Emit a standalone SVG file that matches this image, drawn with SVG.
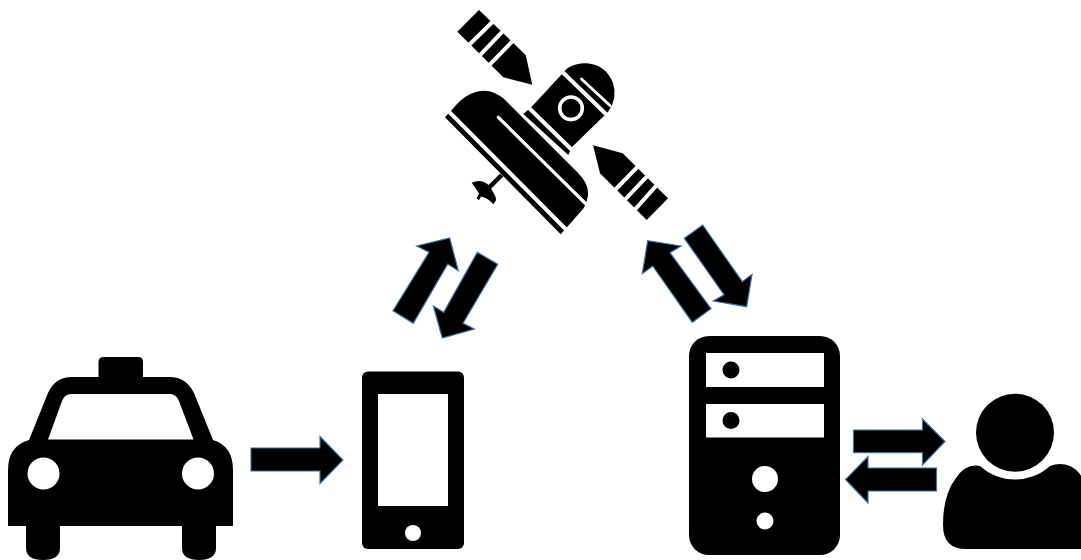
<svg xmlns="http://www.w3.org/2000/svg" width="1081" height="560" viewBox="0 0 1081 560">
<style>
.k{fill:#000}
.w{fill:#fff}
.s{stroke:#fff;stroke-width:4;fill:none}
.a{fill:#000;stroke:#41719c;stroke-width:1.2;stroke-linejoin:miter}
</style>
<rect width="1081" height="560" fill="#fff"/>
<g id="satellite">
<path class="k" d="M479 10L525.700 55L532.300 84.700L503.300 77.300L457.300 31.700Z"/>
<path class="s" d="M468.700 45.300L493.700 20.700M479.700 55.300L503.700 30.300M489 65.300L513 40.700"/>
<path class="k" d="M593 145.300L622.700 153.300L668 198.300L646.700 220L600 173.300Z"/>
<path class="s" d="M614 191L638 166.300M623.700 201L647 176.300M633.700 211L656.300 185.700"/>
<path class="k" d="M523.300 114L531.700 106.700L567.300 68.300Q576 63 586.700 63.300Q606 65 613 83Q618 98 608 112L572 147L568.300 155Z"/>
<path class="s" d="M529 108L572 150M563 72.500L608.500 116.500"/>
<path d="M581.500 79L610 105.500" fill="none" stroke="#fff" stroke-width="2.800" stroke-linecap="round"/>
<circle cx="571" cy="108.300" r="11.300" fill="none" stroke="#fff" stroke-width="3.600"/>
<path class="k" d="M445 117.300L453.300 108.300Q466 92 483.300 90.700Q493 90 503.300 98.300L578.300 173.300Q590 185 587.700 197Q586 205 583 209L560.700 234.300Z"/>
<path class="s" d="M449 111.600L567.500 231"/>
<path d="M498.300 117.300L586.500 204.500" fill="none" stroke="#fff" stroke-width="3.200" stroke-linecap="round"/>
<path d="M501.700 175L485 191.700" stroke="#000" stroke-width="4.500" fill="none"/>
<path class="k" d="M471.700 182.700Q478 180 483.300 181.700Q490 184 493 192Q497 198 495.700 201L493.300 204.300Q489 199 484 197.500L481 196.500L479 200L476.500 198.500L479 193.500Q475 187 471.700 182.700Z"/>
</g>
<g id="taxi">
<path class="k" d="M8 526V470Q8 446 29 440L48 393Q55 377 72 377H98.500V362Q98.500 357 104 357H138Q143 357 143 362V377H170Q186 377 194 393L213 440Q233 446 233 470V526H216V548Q216 560 199 560Q182 560 182 548V526H60V548Q60 560 43 560Q26 560 26 548V526Z"/>
<path class="w" d="M48 439.500L62 401Q65 394 71 394H170Q176 394 179 401L193.500 439.500Z"/>
<circle class="w" cx="43.500" cy="473.500" r="16"/>
<circle class="w" cx="198" cy="473.500" r="16"/>
</g>
<g id="phone">
<rect class="k" x="362" y="371.500" width="102" height="177.500" rx="6"/>
<rect class="w" x="378" y="394" width="70" height="112"/>
<circle class="w" cx="413" cy="533" r="8"/>
</g>
<g id="server">
<rect class="k" x="689" y="336" width="151" height="219" rx="20"/>
<rect class="w" x="706" y="353" width="118" height="34"/>
<rect class="w" x="706" y="404" width="118" height="33.500"/>
<circle class="k" cx="731" cy="370" r="8.500"/>
<circle class="k" cx="731" cy="420.500" r="8.500"/>
<circle class="w" cx="765" cy="479" r="13"/>
<circle class="w" cx="765" cy="521" r="8.500"/>
</g>
<g id="user">
<circle class="k" cx="1015" cy="432.700" r="39"/>
<path class="k" d="M980 466A52 52 0 0 0 1050 466Q1060 462 1070 466Q1085 473 1090 500V549H966Q943 549 943 525Q943 495 956 478Q966 463 980 466Z"/>
</g>
<g id="connectors">
<path class="a" d="M251 448H320V436.500L343 460L320 483.500V471H251Z"/>
<path class="a" d="M853.500 430H922.500V419L945 441.500L922.500 465V452.600H853.500Z"/>
<path class="a" d="M936.500 468H868V456.500L845.500 479.500L868 503V491H936.500Z"/>
<path class="a" d="M393 310.700L429 252.300L416.700 246L449.700 238L458.300 270.700L447.700 264L413.300 323.300Z"/>
<path class="a" d="M477.300 252.300L497.700 264.300L463 323.300L474.300 329L442.300 338L433.300 306L443.700 312.300Z"/>
<path class="a" d="M711 308.700L670 252.700L681 246L647.700 240.700L642.300 273.700L652.700 266L692.300 322.300Z"/>
<path class="a" d="M684.300 238.300L702.700 225L742.300 281.700L752 274.300L746.700 306.700L713.300 301L724 294.700Z"/>
</g>
</svg>
